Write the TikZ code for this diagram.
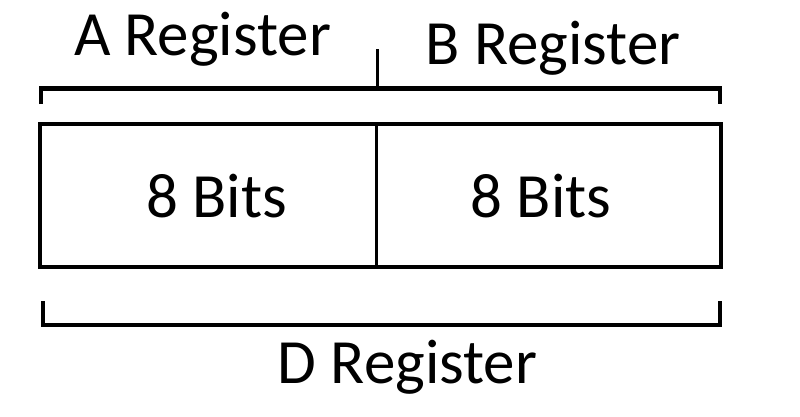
\documentclass[tikz,border=0pt]{standalone}
\usepackage{fontspec}
\setmainfont{Carlito}
\begin{document}
\begin{tikzpicture}[x=1pt,y=-1pt,
  lbl/.style={font=\fontsize{63}{72}\selectfont, anchor=base, inner sep=0pt},
  thick line/.style={line width=4.2pt, line cap=rect},
  thin line/.style={line width=3pt}]
\useasboundingbox (0,0) rectangle (800,416);
% cells
\node[minimum width=336pt, minimum height=143pt, inner sep=0pt] (cellA) at (208,195.5) {};
\node[minimum width=345pt, minimum height=143pt, inner sep=0pt] (cellB) at (548.5,195.5) {};
\node[lbl] (bitsA) at (216.5,217) {8 Bits};
\node[lbl] (bitsB) at (541,217) {8 Bits};
\draw[thick line] (cellA.north west) rectangle (cellB.south east);
\draw[thin line] (cellA.north east) -- (cellA.south east);
% top bracket
\coordinate (tl) at (41,104);
\coordinate (tr) at (720,104);
\coordinate (tm) at (377,49);
\draw[thick line, line cap=butt] (tl) -- (41,88.5) -- (720,88.5) -- (tr);
\draw[thin line] (tm) -- (377,88.5);
\node[lbl] (regA) at (202.5,55) {A Register};
\node[lbl] (regB) at (553,64) {B Register};
% bottom bracket
\coordinate (bl) at (43,301);
\coordinate (br) at (720,301);
\draw[thick line, line cap=butt] (bl) -- (43,325) -- (720,325) -- (br);
\node[lbl] (regD) at (407.5,383) {D Register};
\end{tikzpicture}
\end{document}
